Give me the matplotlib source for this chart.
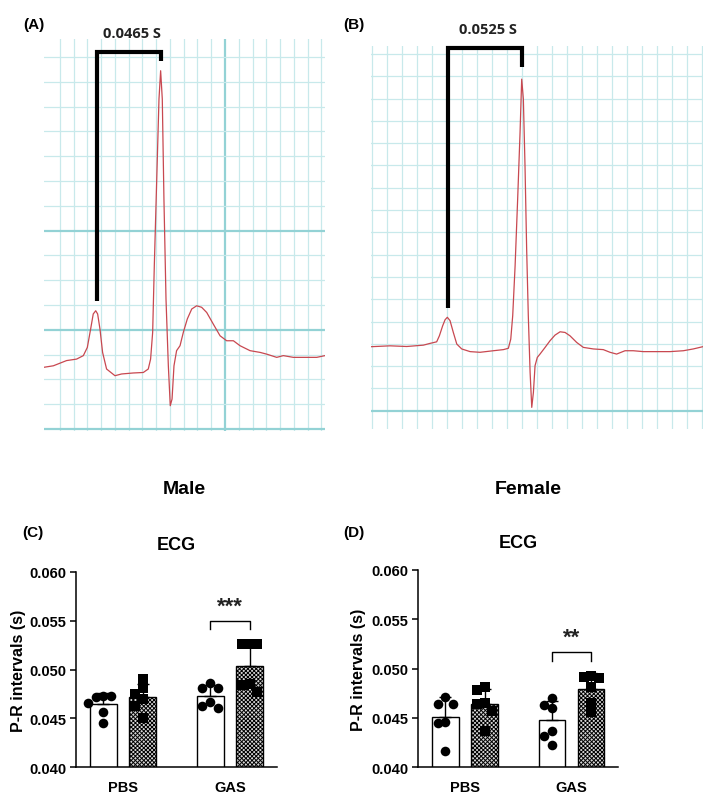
"""ECG traces (A, B) and P-R interval bar charts (C, D)."""

import numpy as np
import matplotlib
matplotlib.use("Agg")
import matplotlib.pyplot as plt

# ECG trace A (male): time in ms, amplitude in mV
ecg_a_t = [-11.6, -4.8, 4.8, 12.1, 17.0, 19.9, 22.3, 24.2, 26.0, 27.4, 29.1, 31.0,
           33.9, 40.0, 44.8, 53.3, 60.6, 64.2, 65.9, 67.4, 68.6, 70.3, 72.0, 73.2,
           74.4, 75.6, 77.1, 78.8, 80.2, 81.5, 82.9, 84.8, 87.3, 89.7, 92.6, 95.8,
           99.4, 103.0, 106.7, 111.5, 116.4, 121.2, 126.1, 130.9, 138.2, 145.5,
           150.3, 157.6, 162.4, 169.7, 179.4, 186.7, 192.7]
ecg_a_v = [0.249, 0.255, 0.276, 0.282, 0.296, 0.329, 0.403, 0.464, 0.477, 0.464,
           0.403, 0.309, 0.242, 0.215, 0.222, 0.226, 0.228, 0.242, 0.282, 0.390,
           0.659, 0.995, 1.331, 1.445, 1.331, 0.927, 0.524, 0.255, 0.094, 0.121,
           0.255, 0.316, 0.336, 0.390, 0.444, 0.484, 0.497, 0.491, 0.470, 0.423,
           0.376, 0.356, 0.356, 0.336, 0.316, 0.309, 0.302, 0.289, 0.296, 0.289,
           0.289, 0.289, 0.296]

# ECG trace B (female)
ecg_b_t = [-0.7, 12.2, 23.3, 34.4, 38.9, 43.3, 45.1, 47.3, 48.9, 50.4, 52.2, 54.4,
           56.7, 60.0, 65.6, 72.2, 81.1, 87.8, 91.1, 92.7, 94.0, 95.6, 97.3, 98.9,
           100.0, 101.1, 102.2, 103.3, 104.4, 105.6, 106.7, 107.8, 108.9, 110.4,
           112.2, 115.6, 118.9, 122.2, 125.6, 128.9, 132.2, 136.7, 141.1, 147.8,
           154.4, 158.9, 163.3, 168.9, 174.4, 181.1, 190.0, 198.9, 207.8, 214.4, 220.7]
ecg_b_v = [0.287, 0.291, 0.288, 0.294, 0.302, 0.309, 0.336, 0.381, 0.408, 0.419,
           0.404, 0.351, 0.299, 0.277, 0.265, 0.262, 0.269, 0.274, 0.280, 0.321,
           0.426, 0.650, 0.949, 1.248, 1.487, 1.398, 1.099, 0.725, 0.426, 0.172,
           0.015, 0.082, 0.202, 0.239, 0.254, 0.284, 0.314, 0.339, 0.354, 0.351,
           0.336, 0.306, 0.284, 0.277, 0.274, 0.262, 0.254, 0.269, 0.269, 0.265,
           0.265, 0.265, 0.269, 0.277, 0.287]

pr_label_a = "0.0465 S"
pr_label_b = "0.0525 S"

# P-R intervals (s), per mouse
groups = ["PBS", "GAS"]
c_pbs_open = [0.0473, 0.0472, 0.0473, 0.0466, 0.0457, 0.0445]
c_pbs_hatch = [0.0490, 0.0481, 0.0475, 0.0470, 0.0463, 0.0450]
c_gas_open = [0.0486, 0.0481, 0.0481, 0.0467, 0.0463, 0.0461]
c_gas_hatch = [0.0526, 0.0526, 0.0526, 0.0485, 0.0484, 0.0477]
d_pbs_open = [0.0471, 0.0464, 0.0464, 0.0446, 0.0445, 0.0417]
d_pbs_hatch = [0.0481, 0.0478, 0.0465, 0.0464, 0.0457, 0.0437]
d_gas_open = [0.0470, 0.0463, 0.0460, 0.0437, 0.0432, 0.0423]
d_gas_hatch = [0.0493, 0.0492, 0.0491, 0.0481, 0.0465, 0.0456]
y_ticks = [0.040, 0.045, 0.050, 0.055, 0.060]

plt.rcParams["font.family"] = ["Liberation Sans", "DejaVu Sans"]
plt.rcParams["hatch.linewidth"] = 0.7

W, H = 709, 804
fig = plt.figure(figsize=(W / 100, H / 100), dpi=100)


def px_axes(left, top, right, bottom):
    return fig.add_axes([left / W, 1 - bottom / H, (right - left) / W, (bottom - top) / H])


def draw_ecg(ax, t, v, label, x_major, y_major, n_x, n_y, top, tick):
    minor = "#c8e9eb"
    major = "#93d2d5"
    xs = [x for x in np.arange(0, n_x * 10 + 1, 10) if x not in x_major]
    ys = [y for y in np.round(np.arange(0.1, n_y * 0.1 + 0.01, 0.1), 2) if y not in y_major]
    ax.set_xticks(xs, minor=True)
    ax.set_yticks(ys, minor=True)
    ax.set_xticks(x_major)
    ax.set_yticks(y_major)
    ax.grid(which="minor", color=minor, lw=0.9)
    ax.grid(which="major", color=major, lw=1.6)
    ax.set_axisbelow(True)
    ax.tick_params(which="both", length=0, labelbottom=False, labelleft=False)
    for s in ax.spines.values():
        s.set_visible(False)
    ax.plot(t, v, color="#c84850", lw=0.9)

    t = np.asarray(t)
    v = np.asarray(v)
    r = int(np.argmax(v))
    p = int(np.argmax(np.where(t < t[r] - 25, v, -1)))
    xp, xr = t[p] + 0.7, t[r] + 0.3
    ax.plot([xp, xp, xr, xr], [v[p] + 0.04, top, top, top - tick], color="black",
            lw=3, solid_joinstyle="miter", solid_capstyle="butt", clip_on=False)
    ax.annotate(label, xy=((xp + xr) / 2, top), xytext=(2, 14), textcoords="offset points",
                ha="center", va="center", fontsize=10.5, fontweight="bold",
                family=["Open Sans", "DejaVu Sans"], color="#222222")


ax_a = px_axes(44, 40, 325, 432)
ax_a.set_xlim(-11.6, 192.7)
ax_a.set_ylim(-0.008, 1.573)
draw_ecg(ax_a, ecg_a_t, ecg_a_v, pr_label_a, [120], [0, 0.4, 0.8], 19, 15, 1.52, 0.035)

ax_b = px_axes(370.7, 46.7, 703, 430)
ax_b.set_xlim(-0.7, 220.9)
ax_b.set_ylim(-0.082, 1.637)
draw_ecg(ax_b, ecg_b_t, ecg_b_v, pr_label_b, [], [0], 22, 16, 1.625, 0.085)


def swarm(vals, step=0.072, near=0.00085):
    placed, offs = [], []
    for v in vals:
        used = [o for pv, o in placed if abs(pv - v) < near]
        for cand in (0, -step, step, -2 * step, 2 * step):
            if all(abs(cand - u) > 1e-9 for u in used):
                break
        placed.append((v, cand))
        offs.append(cand)
    return offs


def draw_bars(ax, open_sets, hatch_sets, stars, bracket_y, ylab_x):
    x = np.arange(len(groups))
    dx, w = 0.185, 0.25
    for sets, sign, hatched in ((open_sets, -1, False), (hatch_sets, 1, True)):
        pos = x + sign * dx
        means = [np.mean(s) for s in sets]
        sds = [np.std(s, ddof=1) for s in sets]
        ax.bar(pos, means, width=w, color="#d8d8d8" if hatched else "white",
               edgecolor="black", lw=1.0, hatch="xxxxxxxx" if hatched else None, zorder=2)
        ax.errorbar(pos, means, yerr=[np.zeros(len(sds)), sds], fmt="none",
                    ecolor="black", elinewidth=1.0, capsize=4, capthick=1.0, zorder=3)
        for p, s in zip(pos, sets):
            ax.scatter(p + np.array(swarm(s)), s, s=52 if hatched else 48,
                       marker="s" if hatched else "o", color="black", zorder=4, lw=0)

    x0, x1 = x[1] - dx, x[1] + dx
    ax.plot([x0, x0, x1, x1], [bracket_y - 0.0009, bracket_y, bracket_y, bracket_y - 0.0009],
            color="black", lw=1.0)
    ax.text(x[1], bracket_y + 0.0004, stars, ha="center", va="bottom", fontsize=16,
            fontweight="bold", color="#222222")

    ax.set_xlim(-0.44, 1.44)
    ax.set_ylim(0.040, 0.060)
    ax.set_yticks(y_ticks)
    ax.set_yticklabels([f"{t:.3f}" for t in y_ticks], fontsize=10.5, fontweight="bold")
    ax.set_xticks(x)
    ax.set_xticklabels(groups, fontsize=10.5, fontweight="bold")
    ax.tick_params(axis="x", length=0, pad=9)
    ax.tick_params(axis="y", length=4, width=1.1, pad=3)
    for s in ("top", "right"):
        ax.spines[s].set_visible(False)
    for s in ("left", "bottom"):
        ax.spines[s].set_linewidth(1.1)
    ax.set_ylabel("P-R intervals (s)", fontsize=11.5, fontweight="bold")
    ax.yaxis.set_label_coords(ylab_x, 0.5)
    ax.text(0.5, 1.14, "ECG", transform=ax.transAxes, ha="center", va="center",
            fontsize=13, fontweight="bold")


ax_c = px_axes(76, 572.7, 277, 768.3)
draw_bars(ax_c, [c_pbs_open, c_gas_open], [c_pbs_hatch, c_gas_hatch], "***", 0.0550, -0.25)

ax_d = px_axes(418.3, 571, 618.3, 768.3)
draw_bars(ax_d, [d_pbs_open, d_gas_open], [d_pbs_hatch, d_gas_hatch], "**", 0.0517, -0.26)

label_kw = dict(fontsize=11, fontweight="bold", ha="center", va="center")
fig.text(34 / W, 1 - 25 / H, "(A)", **label_kw)
fig.text(354 / W, 1 - 25 / H, "(B)", **label_kw)
fig.text(33 / W, 1 - 533 / H, "(C)", **label_kw)
fig.text(354 / W, 1 - 533 / H, "(D)", **label_kw)
fig.text(184 / W, 1 - 490 / H, "Male", fontsize=14, fontweight="bold", ha="center", va="center")
fig.text(528 / W, 1 - 490 / H, "Female", fontsize=14, fontweight="bold", ha="center", va="center")

fig.savefig("out.png", dpi=100)
plt.close(fig)
